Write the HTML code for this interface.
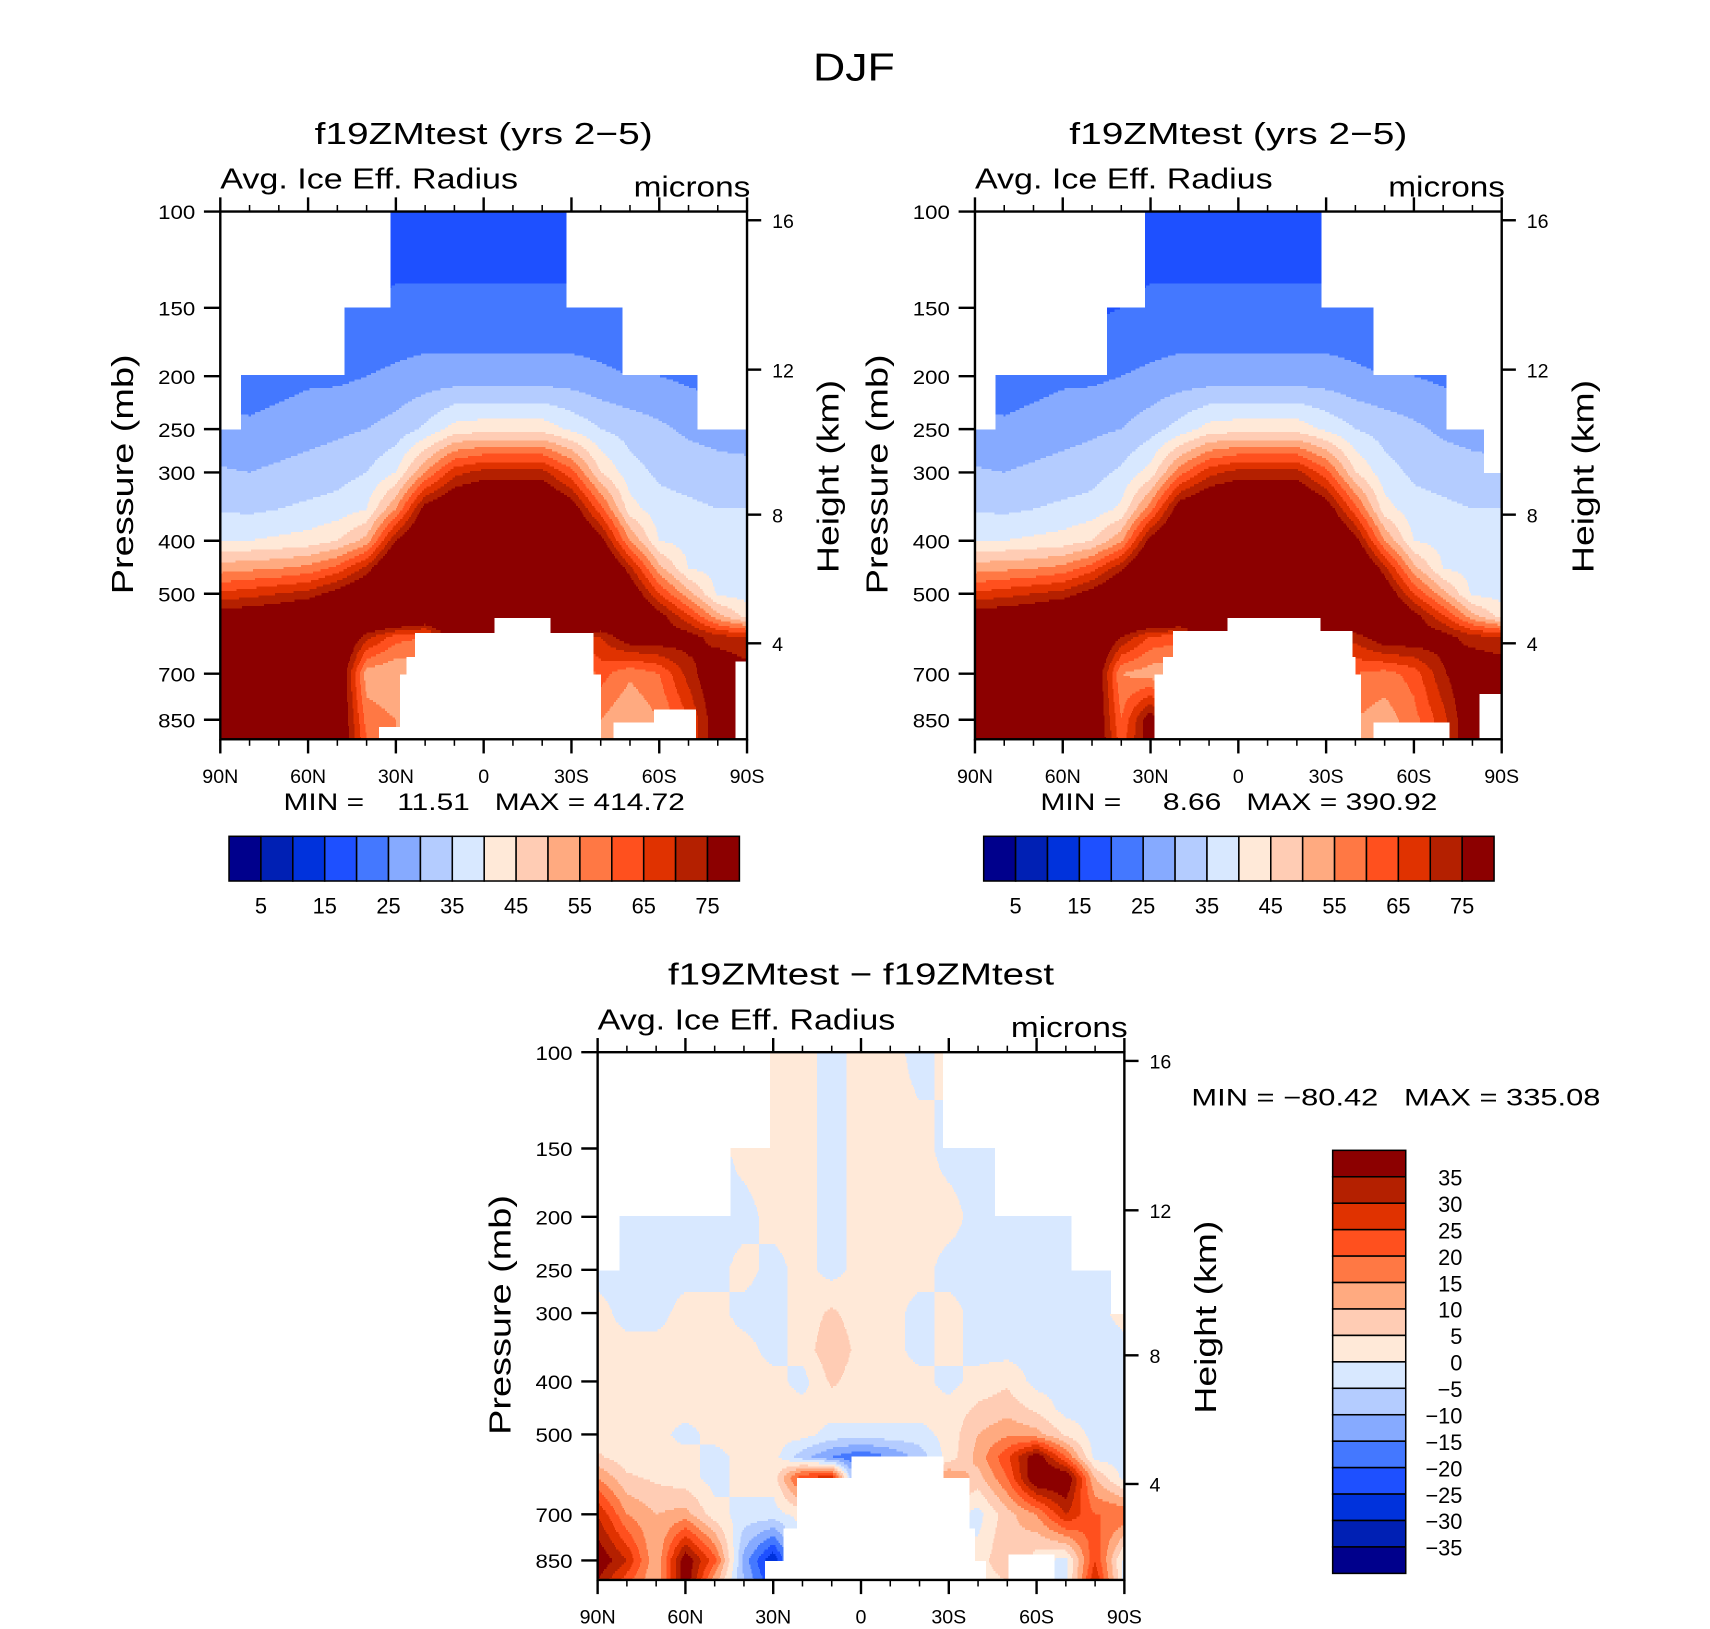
<!DOCTYPE html>
<html><head><meta charset="utf-8">
<style>
html,body{margin:0;padding:0;background:#fff;}
#root{width:1710px;height:1629px;position:relative;overflow:hidden;}
svg text{font-family:"Liberation Sans",sans-serif;fill:#000;}
</style></head>
<body>
<div id="root">
<svg id="fig" width="1710" height="1629" viewBox="0 0 1568 1494" preserveAspectRatio="none" xmlns="http://www.w3.org/2000/svg">
<text x="783" y="74" font-size="36" text-anchor="middle" textLength="75" lengthAdjust="spacingAndGlyphs">DJF</text>
</svg>
</div>
<script>
// ---- data ----
const levels = [100,150,200,250,300,350,400,450,500,550,600,700,850,925];
const lats = [90,80,70,60,50,40,30,20,10,0,-10,-20,-30,-40,-50,-60,-70,-80,-90];
const latTicks = ["90N","60N","30N","0","30S","60S","90S"];
const pTicks = [100,150,200,250,300,400,500,700,850];
const hTicks = [16,12,8,4];
const hTickY = [202,339,472,590];
const absBounds = [5,10,15,20,25,30,35,40,45,50,55,60,65,70,75];
const absLabels = ["5","15","25","35","45","55","65","75"];
const diffBounds = [-35,-30,-25,-20,-15,-10,-5,0,5,10,15,20,25,30,35];
const diffLabels = ["35","30","25","20","15","10","5","0","\u22125","\u221210","\u221215","\u221220","\u221225","\u221230","\u221235"];
const colors = ["#00008C","#0020B4","#0032DC","#1E50FF","#4478FF","#86AAFF","#B4CCFF","#D8E8FF","#FFE9D8","#FFCCB4","#FFAA80","#FF7844","#FF501E","#E03200","#B42000","#8C0000"];

const field1 = [
[17,17,17,17,17,17,17,17,17,17,17,17,17,17,17,17,17,17,17],
[19,19,19,19,20,20,21,21,21,21,21,21,21,21,20,19,19,19,19],
[22,22,23,24,24,25,26,27,27,27,27,27,27,26,25,25,24,23,23],
[27,26,27,28,29,30,32,36,42,43,43,43,39,35,33,31,29,28,27],
[30.5,30,31,32,33,35,40,55,68,72,72,72,62,45,37,34,33,32,32],
[34.6,34,35,36,37,40,55,78,85,88,88,88,80,62,42,37,36,35,35],
[39.5,40,41,42,45,52,75,88,90,95,95,95,90,78,55,40,38,37,37],
[53,54,55,57,62,72,90,95,95,100,100,100,95,90,72,52,40,38,37],
[66,68,70,72,78,85,95,100,100,100,100,100,100,95,82,65,52,39,38],
[80,80,82,85,88,90,90,85,90,100,100,100,90,88,88,78,66,52,43],
[90,90,90,90,88,72,62,60,80,100,100,90,70,70,80,80,78,72,70],
[95,95,95,90,85,52,50,50,50,50,50,50,50,62,56,60,72,82,78],
[95,95,95,92,85,58,55,50,50,50,50,50,50,55,50,55,65,80,80],
[95,95,95,92,85,60,55,50,50,50,50,50,50,55,50,55,65,80,80]];
const field2 = [
[17,17,17,17,17,17,17,17,17,17,17,17,17,17,17,17,17,17,17],
[19,19,19,19,19,20,21,21,21,21,21,21,21,21,20,19,19,19,19],
[22,22,23,24,24,25,26,27,27,27,27,27,27,26,25,25,24,23,23],
[27,26,27,28,29,30,33,37,42,43,43,43,39,35,33,31,29,28,27],
[30.5,30,31,32,33,36,42,58,68,72,72,72,62,45,37,34,33,32,32],
[34.6,34,35,36,37,41,58,80,86,88,88,88,80,62,42,37,36,35,35],
[39.5,40,41,42,45,54,78,88,90,95,95,95,90,78,55,40,38,37,37],
[53,54,55,57,63,74,90,95,95,100,100,100,95,90,72,52,40,38,37],
[66,68,70,72,78,86,95,100,100,100,100,100,100,95,82,65,52,39,38],
[80,80,82,85,88,90,90,88,90,100,100,100,90,88,88,78,66,52,43],
[92,92,92,90,88,75,64,62,80,100,100,90,72,72,80,80,78,72,70],
[95,95,95,92,86,55,52,50,50,50,50,50,50,60,58,62,74,82,80],
[95,95,95,92,86,60,80,50,50,50,50,50,50,55,52,58,68,82,80],
[95,95,95,92,86,62,80,50,50,50,50,50,50,55,52,58,68,82,80]];
const fieldDiff = [
[2,2,2,2,2,2,2,2,-2,2,2,-2,2,2,2,2,2,2,2],
[-2,-2,-2,-2,-2,2,2,2,-2,2,2,2,-2,-2,-2,-2,-2,-2,-2],
[-2,-2,-2,-2,-2,-2,2,2,-2,2,2,2,2,-2,-2,-2,-2,-2,-2],
[-2,-2,-2,-2,-2,2,-2,2,-2,2,2,2,-2,-2,-2,-2,-2,-2,-2],
[2,-2,-2,2,2,-2,-2,2,6,2,2,-2,2,-2,-2,-2,-2,-2,2],
[2,2,2,2,2,2,-2,2,9,3,2,-2,2,-2,-2,-2,-2,-2,-2],
[2,2,2,2,2,2,2,-2,6,2,2,2,-2,2,4,-2,-2,-2,-2],
[2,2,2,2,2,2,2,2,2,2,2,2,2,6,8,4,-2,-2,-2],
[2,2,2,-2,2,2,2,2,-2,-2,-2,-2,2,10,14,12,4,-2,-2],
[6,2,2,2,-2,2,2,-8,-15,-20,-15,-8,2,12,24,40,20,-2,-2],
[15,6,4,2,-2,2,2,25,30,-25,-30,20,15,8,20,42,42,10,-2],
[30,15,10,12,2,-2,-2,2,2,2,2,2,2,-2,8,15,30,20,20],
[40,30,10,40,22,-12,-30,0,0,0,0,0,0,2,10,2,-2,25,-2],
[35,22,10,40,12,-10,-25,0,0,0,0,0,0,2,5,2,-2,30,-2]];

// masks: [pressure, latNorth, latSouth]
const top1 = [[100,32,-28],[150,47.5,-47],[200,83,-73],[250,90,-90]];
const bot1 = [[550,-3.5,-23],[591,23.7,-37.4],[650,26.6,-37.4],[700,29,-40],[870,36,23],[860,-44,-58],[810,-58,-72.5],[660,-86,-90]];
const top2 = [[100,32,-28],[150,45,-46],[200,83,-71],[250,90,-83.6],[300,90,-90]];
const bot2 = [[550,4,-28],[585,22.5,-39],[650,26,-40],[700,29,-42],[860,-46,-72],[760,-82,-90]];
const top3 = [[100,31,-27.8],[150,44.5,-45.6],[200,82.5,-71.7],[250,90,-85],[300,90,-90]];
const bot3 = [[547,3.5,-28],[600,22,-37],[740,26.6,-39],[850,33,-42.5],[830,-50,-66]];

const NS="http://www.w3.org/2000/svg";
const svg=document.getElementById('fig');
function mk(tag,attrs,parent){const e=document.createElementNS(NS,tag);for(const k in attrs)e.setAttribute(k,attrs[k]);(parent||svg).appendChild(e);return e;}
function txt(s,x,y,size,anchor,parent,len){const t=mk('text',{x:x,y:y,'font-size':size,'text-anchor':anchor||'start'},parent);if(len){t.setAttribute('textLength',len);t.setAttribute('lengthAdjust','spacingAndGlyphs');}t.textContent=s;return t;}

const PW=483,PH=484,K=217.8;
function yOfP(p,y0){return y0+Math.log(p/100)*K;}
function pOfY(y,y0){return 100*Math.exp((y-y0)/K);}

function sample(field,lat,p){
  let i=(90-lat)/10; if(i<0)i=0; if(i>18)i=18;
  const i0=Math.min(17,Math.floor(i)), fi=i-i0;
  const lp=Math.log(p);
  let j=levels.length-2, fj=1;
  if(p<=levels[0]){j=0;fj=0;}
  else if(p>=levels[levels.length-1]){j=levels.length-2;fj=1;}
  else{for(let k=0;k<levels.length-1;k++){if(p>=levels[k]&&p<=levels[k+1]){j=k;fj=(lp-Math.log(levels[k]))/(Math.log(levels[k+1])-Math.log(levels[k]));break;}}}
  const a=field[j][i0]*(1-fi)+field[j][i0+1]*fi;
  const b=field[j+1][i0]*(1-fi)+field[j+1][i0+1]*fi;
  return a*(1-fj)+b*fj;
}
function masked(lat,p,topM,botM){
  let ok=false;
  for(const m of topM){ if(p>=m[0]){ ok=(lat<=m[1]&&lat>=m[2]); } }
  if(p<topM[0][0]) ok=false;
  if(!ok) return true;
  for(const m of botM){ if(p>=m[0]&&lat<=m[1]&&lat>=m[2]) return true; }
  return false;
}
function bin(v,bounds){let k=0;while(k<bounds.length&&v>=bounds[k])k++;return k;}

function panel(x0,y0,field,topM,botM,bounds,name,title,titleLen){
  const g=mk('g',{});
  
  
  const fg=mk('g',{'shape-rendering':'crispEdges'},g);
  
  
  const sy=2, sx=1;
  for(let y=0;y<PH;y+=sy){
    const p=pOfY(y0+y+sy/2,y0);
    let runStart=0, runCol=null;
    for(let x=0;x<=PW;x+=sx){
      let col=null;
      if(x<PW){
        const lat=90-(x+sx/2)/PW*180;
        if(!masked(lat,p,topM,botM)) col=colors[bin(sample(field,lat,p),bounds)];
      }
      if(col!==runCol||x>=PW){
        if(runCol!==null){
          const r=mk('rect',{x:x0+runStart,y:y0+y,width:x-runStart+0.6,height:sy+0.6,fill:runCol},fg);
          
          
        }
        runStart=x; runCol=col;
      }
    }
  }
  const fr=mk('rect',{x:x0,y:y0,width:PW,height:PH,fill:'none',stroke:'#000','stroke-width':2.2},g);
  
  
  for(let l=90;l>=-90;l-=10){
    const x=x0+(90-l)/180*PW, major=(l%30===0), len=major?13:6;
    mk('line',{x1:x,x2:x,y1:y0,y2:y0-len,stroke:'#000','stroke-width':major?2.2:1.4},g);
    mk('line',{x1:x,x2:x,y1:y0+PH,y2:y0+PH+len,stroke:'#000','stroke-width':major?2.2:1.4},g);
  }
  latTicks.forEach((s,i)=>{const t=txt(s,x0+i*PW/6,y0+PH+40,18,'middle',g);});
  pTicks.forEach(p=>{const y=yOfP(p,y0);mk('line',{x1:x0,x2:x0-15,y1:y,y2:y,stroke:'#000','stroke-width':2.2},g);
    const t=txt(String(p),x0-23,y+7,18,'end',g,34);});
  hTicks.forEach((h,i)=>{const y=y0+(hTickY[i]-194);mk('line',{x1:x0+PW,x2:x0+PW+13,y1:y,y2:y,stroke:'#000','stroke-width':2.2},g);
    const t=txt(String(h),x0+PW+23,y+7,18,'start',g);});
  const tt=txt(title,x0+PW/2,y0-62,28,'middle',g,titleLen);
  const ls=txt('Avg. Ice Eff. Radius',x0,y0-21,26,'start',g,273);
  const un=txt('microns',x0+PW+3,y0-14,26,'end',g,107);
  const yt=txt('Pressure (mb)',0,0,28,'middle',g,220);yt.setAttribute('transform','translate('+(x0-80)+','+(y0+241)+') rotate(-90)');
  
  const ht=txt('Height (km)',0,0,28,'middle',g,177);ht.setAttribute('transform','translate('+(x0+PW+84)+','+(y0+243)+') rotate(-90)');
  
}

function hbar(x0,y0,name){
  const g=mk('g',{});
  const w=468/16;
  colors.forEach((c,i)=>{const r=mk('rect',{x:x0+i*w,y:y0,width:w,height:41,fill:c,stroke:'#000','stroke-width':1.4},g);
    });
  absLabels.forEach((s,i)=>{const t=txt(s,x0+(2*i+1)*w,y0+71,20,'middle',g);});
}
function vbar(x0,y0,name){
  const g=mk('g',{});
  const h=388/16;
  colors.slice().reverse().forEach((c,i)=>{const r=mk('rect',{x:x0,y:y0+i*h,width:67,height:h,fill:c,stroke:'#000','stroke-width':1.4},g);
    });
  diffLabels.forEach((s,i)=>{const t=txt(s,x0+119,y0+(i+1)*h+8,20,'end',g);});
}

panel(202,194,field1,top1,bot1,absBounds,'panel-test-left','f19ZMtest (yrs 2\u22125)',310);
panel(894,194,field2,top2,bot2,absBounds,'panel-test-right','f19ZMtest (yrs 2\u22125)',310);
panel(548,965,fieldDiff,top3,bot3,diffBounds,'panel-difference','f19ZMtest \u2212 f19ZMtest',354);
hbar(210,767,'colorbar-left');
hbar(902,767,'colorbar-right');
vbar(1222,1055,'colorbar-diff');
let t;
t=txt('MIN =    11.51   MAX = 414.72',444,743,22,'middle',null,368);
t.style.whiteSpace='pre';
t=txt('MIN =     8.66   MAX = 390.92',1136,743,22,'middle',null,364);
t.style.whiteSpace='pre';
t=txt('MIN = \u221280.42   MAX = 335.08',1280,1014,22,'middle',null,375);
t.style.whiteSpace='pre';
</script>
</body></html>
